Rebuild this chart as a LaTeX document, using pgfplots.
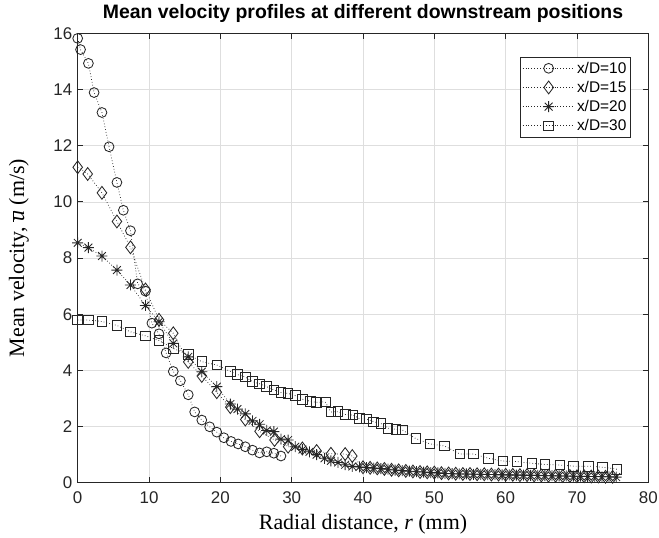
\documentclass[border=0pt]{standalone}
\usepackage{fontspec}
\setmainfont{Liberation Serif}
\newfontfamily\arial{Liberation Sans}
\usepackage{pgfplots}
\pgfplotsset{compat=1.18}
\definecolor{axgray}{HTML}{262626}
\pgfdeclareplotmark{mstar}{%
  \pgfpathmoveto{\pgfqpoint{-\pgfplotmarksize}{0pt}}\pgfpathlineto{\pgfqpoint{\pgfplotmarksize}{0pt}}%
  \pgfpathmoveto{\pgfqpoint{0pt}{-\pgfplotmarksize}}\pgfpathlineto{\pgfqpoint{0pt}{\pgfplotmarksize}}%
  \pgfpathmoveto{\pgfqpoint{-.707\pgfplotmarksize}{-.707\pgfplotmarksize}}\pgfpathlineto{\pgfqpoint{.707\pgfplotmarksize}{.707\pgfplotmarksize}}%
  \pgfpathmoveto{\pgfqpoint{-.707\pgfplotmarksize}{.707\pgfplotmarksize}}\pgfpathlineto{\pgfqpoint{.707\pgfplotmarksize}{-.707\pgfplotmarksize}}%
  \pgfusepathqstroke}

\pgfplotstableread{
r u
0 15.82
0.4 15.42
1.5 14.93
2.3 13.89
3.4 13.18
4.4 11.96
5.5 10.69
6.4 9.70
7.4 8.97
8.4 7.08
9.5 6.82
10.4 5.68
11.4 5.30
12.4 4.62
13.4 3.96
14.4 3.63
15.5 3.13
16.4 2.52
17.4 2.23
18.5 1.99
19.5 1.80
20.5 1.60
21.5 1.47
22.5 1.38
23.5 1.28
24.5 1.16
25.5 1.06
26.5 1.10
27.5 1.05
28.5 0.95
}\tabA

\pgfplotstableread{
r u
0 11.23
1.4 10.99
3.4 10.32
5.5 9.30
7.4 8.38
9.5 6.88
11.4 5.80
13.4 5.32
15.5 4.30
17.4 3.80
19.5 3.22
21.4 2.69
23.5 2.25
25.5 1.83
27.6 1.52
29.5 1.28
31.5 1.22
33.5 1.13
35.5 1.03
37.5 1.02
38.5 0.95
40 0.55
41 0.53
42 0.51
43 0.49
44 0.46
45 0.44
46 0.42
47 0.40
48 0.38
49 0.37
50 0.36
51 0.34
52 0.33
53 0.32
54 0.31
55 0.31
56 0.30
57 0.30
58 0.29
59 0.29
60 0.28
61 0.28
62 0.27
63 0.27
64 0.26
65 0.26
66 0.25
67 0.25
68 0.24
69 0.24
70 0.23
71 0.23
72 0.22
73 0.22
74 0.21
75 0.21
}\tabB

\pgfplotstableread{
r u
0 8.54
1.5 8.37
3.4 8.07
5.5 7.57
7.4 7.04
9.5 6.31
11.4 5.73
13.4 4.96
15.5 4.48
17.4 3.95
19.5 3.42
21.4 2.80
22.4 2.62
23.5 2.45
24.5 2.20
25.5 2.08
26.5 1.86
27.5 1.82
28.5 1.55
29.5 1.52
30.5 1.28
31.5 1.18
32.5 1.10
33.5 1.00
34.6 0.87
35.5 0.78
36.5 0.72
37.5 0.64
38.5 0.58
39.5 0.56
40.5 0.54
41.5 0.52
42.5 0.50
43.5 0.48
44.5 0.45
45.5 0.43
46.5 0.41
47.5 0.39
48.5 0.38
49.5 0.36
50.5 0.35
51.5 0.33
52.5 0.32
53.5 0.31
54.5 0.31
55.5 0.30
56.5 0.30
57.5 0.29
58.5 0.29
59.5 0.28
60.5 0.28
61.5 0.27
62.5 0.27
63.5 0.26
64.5 0.26
65.5 0.25
66.5 0.25
67.5 0.24
68.5 0.24
69.5 0.23
70.5 0.23
71.5 0.22
72.5 0.22
73.5 0.21
74.5 0.21
75.5 0.20
}\tabC

\pgfplotstableread{
r u
0 5.79
1.5 5.79
3.4 5.74
5.5 5.60
7.4 5.37
9.5 5.23
11.4 5.06
13.4 4.78
15.5 4.56
17.4 4.31
19.5 4.19
21.4 3.96
22.4 3.85
23.5 3.76
24.5 3.60
25.5 3.52
26.5 3.42
27.5 3.30
28.5 3.21
29.5 3.18
30.5 3.10
31.5 2.97
32.6 2.90
33.5 2.86
34.7 2.88
35.5 2.52
36.5 2.53
37.5 2.43
38.6 2.41
39.5 2.28
40.5 2.27
41.5 2.17
42.5 2.11
43.5 1.94
44.6 1.90
45.5 1.88
47.4 1.57
49.4 1.38
51.4 1.31
53.6 1.02
55.5 1.02
57.6 0.87
59.6 0.77
61.6 0.75
63.7 0.69
65.5 0.65
67.6 0.63
69.5 0.59
71.6 0.59
73.6 0.55
75.6 0.48
}\tabD

\begin{document}
\begin{tikzpicture}
\useasboundingbox (-77.7bp,-55.3bp) rectangle (581.3bp,482.7bp);
\begin{axis}[
  scale only axis,
  width=570.6bp, height=449.4bp,
  xmin=0, xmax=80, ymin=0, ymax=16,
  xtick={0,10,...,80}, ytick={0,2,...,16},
  grid=major,
  major grid style={color=black!13, line width=0.6bp},
  axis line style={color=axgray, line width=0.8bp},
  tick style={color=axgray, line width=0.7bp},
  major tick length=5.5bp,
  tick align=inside,
  tick label style={font=\arial\fontsize{17}{19}\selectfont, text=axgray},
  /pgf/number format/assume math mode=true,
  xticklabel style={yshift=-5bp},
  yticklabel style={xshift=-2bp},
  title={\arial\bfseries Mean velocity profiles at different downstream positions},
  title style={font=\fontsize{19.5}{21}\selectfont, at={(axis description cs:0.5,1.02)}, anchor=base, text=black},
  xlabel={Radial distance, \textit{r} (mm)},
  ylabel={Mean velocity, $\overline{\textit{u}}$ (m/s)},
  label style={font=\fontsize{22}{24}\selectfont},
  xlabel style={at={(axis description cs:0.5,-0.1052)}, anchor=base},
  ylabel style={at={(axis description cs:-0.1029,0.5)}, anchor=center},
  legend style={at={(axis description cs:0.9691,0.948)}, anchor=north east,
     draw=axgray, line width=0.6bp, font=\arial\fontsize{15.5}{17}\selectfont,
     inner xsep=2bp, inner ysep=3bp, row sep=2.5bp},
  legend cell align=left,
  legend image code/.code={\draw[#1, mark repeat=2, mark phase=2] plot coordinates {(0bp,0bp)(26bp,0bp)(52bp,0bp)};},
  every axis plot/.append style={color=black!85, line width=0.75bp, dash pattern=on 0.7bp off 2.2bp,
     mark options={solid, line width=0.85bp, fill=none}},
]
\addplot[mark=o, mark size=4.9bp] table[x=r,y=u] {\tabA};
\addlegendentry{x/D=10}
\addplot[mark=diamond, mark size=6.4bp] table[x=r,y=u] {\tabB};
\addlegendentry{x/D=15}
\addplot[mark=mstar, mark size=5.5bp] table[x=r,y=u] {\tabC};
\addlegendentry{x/D=20}
\addplot[mark=square, mark size=4.8bp] table[x=r,y=u] {\tabD};
\addlegendentry{x/D=30}
\end{axis}
\end{tikzpicture}
\end{document}
